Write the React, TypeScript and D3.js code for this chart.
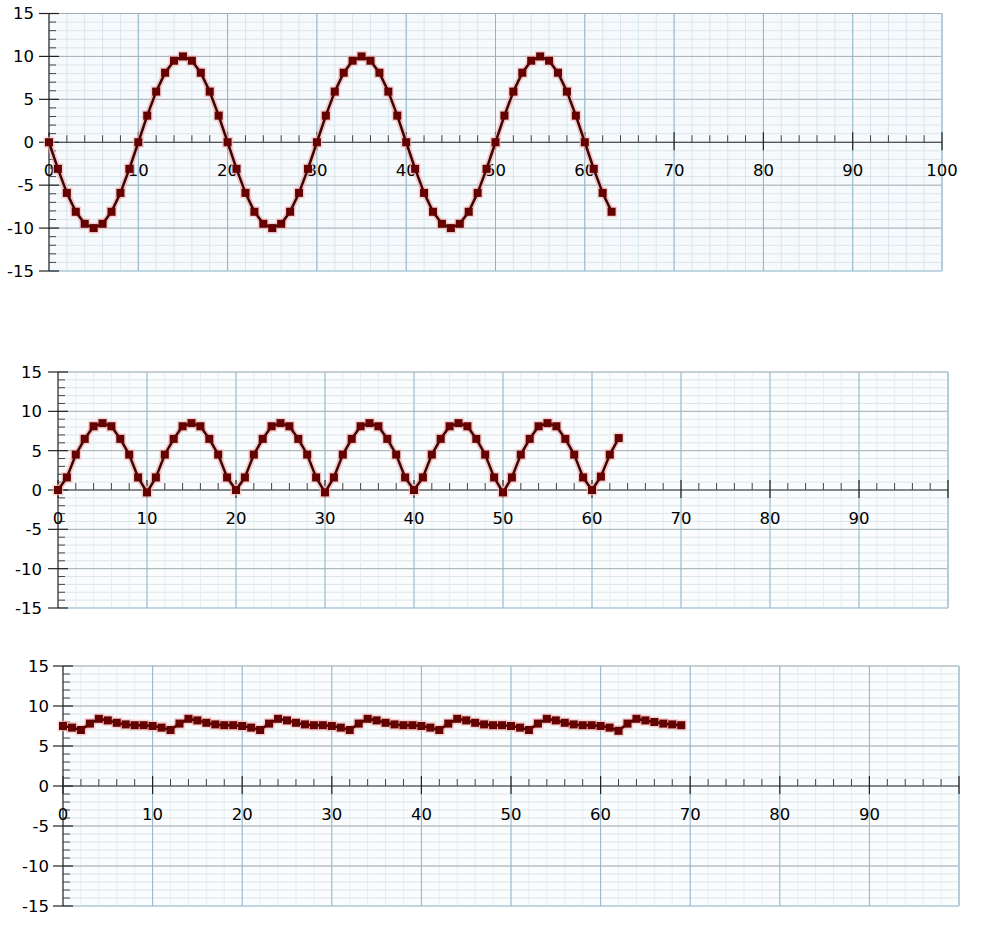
import React from "react";
import * as d3 from "d3";

// Values, one per integer x step starting at x = 0
const topValues = [
  0, -3.1, -5.9, -8.1, -9.5, -10, -9.5, -8.1, -5.9, -3.1,
  0, 3.1, 5.9, 8.1, 9.5, 10, 9.5, 8.1, 5.9, 3.1,
  0, -3.1, -5.9, -8.1, -9.5, -10, -9.5, -8.1, -5.9, -3.1,
  0, 3.1, 5.9, 8.1, 9.5, 10, 9.5, 8.1, 5.9, 3.1,
  0, -3.1, -5.9, -8.1, -9.5, -10, -9.5, -8.1, -5.9, -3.1,
  0, 3.1, 5.9, 8.1, 9.5, 10, 9.5, 8.1, 5.9, 3.1,
  0, -3.1, -5.9, -8.1,
];

const middleValues = [
  0, 1.6, 4.5, 6.5, 8.1, 8.5, 8.1, 6.5, 4.5, 1.6,
  -0.3, 1.6, 4.5, 6.5, 8.1, 8.5, 8.1, 6.5, 4.5, 1.6,
  0, 1.6, 4.5, 6.5, 8.1, 8.5, 8.1, 6.5, 4.5, 1.6,
  -0.3, 1.6, 4.5, 6.5, 8.1, 8.5, 8.1, 6.5, 4.5, 1.6,
  0, 1.6, 4.5, 6.5, 8.1, 8.5, 8.1, 6.5, 4.5, 1.6,
  -0.3, 1.6, 4.5, 6.5, 8.1, 8.5, 8.1, 6.5, 4.5, 1.6,
  0, 1.7, 4.5, 6.6,
];

const bottomValues = [
  7.5, 7.3, 7.0, 7.8, 8.4, 8.2, 7.9, 7.7, 7.6, 7.6,
  7.5, 7.3, 7.0, 7.8, 8.4, 8.2, 7.9, 7.7, 7.6, 7.6,
  7.5, 7.3, 7.0, 7.8, 8.4, 8.2, 7.9, 7.7, 7.6, 7.6,
  7.5, 7.3, 7.0, 7.8, 8.4, 8.2, 7.9, 7.7, 7.6, 7.6,
  7.5, 7.3, 7.0, 7.8, 8.4, 8.2, 7.9, 7.7, 7.6, 7.6,
  7.5, 7.3, 7.0, 7.8, 8.4, 8.2, 7.9, 7.7, 7.6, 7.6,
  7.5, 7.3, 6.9, 7.8, 8.4, 8.2, 8.0, 7.8, 7.7, 7.6,
];

const xLabelsTop = [0, 10, 20, 30, 40, 50, 60, 70, 80, 90, 100];
const xLabelsRest = [0, 10, 20, 30, 40, 50, 60, 70, 80, 90];
const yLabels = [15, 10, 5, 0, -5, -10, -15];

const FONT = "'DejaVu Sans', Verdana, sans-serif";

type PanelProps = {
  values: number[];
  left: number;
  right: number;
  top: number;
  bottom: number;
  xLabels: number[];
  labelGap: number;
  vMinorColor: string;
  bg: string;
};

function Panel({ values, left, right, top, bottom, xLabels, labelGap, vMinorColor, bg }: PanelProps) {
  const x = d3.scaleLinear().domain([0, 100]).range([left, right]);
  const y = d3.scaleLinear().domain([-15, 15]).range([bottom, top]);
  const x0 = x(0);
  const y0 = y(0);

  const vMinor = d3.range(0, 101, 2);
  const vMajor = d3.range(10, 101, 10);
  const hMinor = d3.range(-15, 16, 1);
  const hMajor = [-10, -5, 5, 10];

  const pts = values.map((v, i) => [i, v] as [number, number]);
  const line = d3
    .line<[number, number]>()
    .x((d) => x(d[0]))
    .y((d) => y(d[1]));
  const path = line(pts) || "";

  return (
    <g>
      <rect x={left} y={top} width={right - left} height={bottom - top} fill={bg} />
      {hMinor.map((t) => (
        <line key={"hm" + t} x1={left} x2={right} y1={y(t)} y2={y(t)} stroke="#dce5ea" strokeWidth={1} />
      ))}
      {vMinor.map((t) => (
        <line key={"vm" + t} x1={x(t)} x2={x(t)} y1={top} y2={bottom} stroke={vMinorColor} strokeWidth={1} />
      ))}
      {hMajor.map((t) => (
        <line key={"hM" + t} x1={left} x2={right} y1={y(t)} y2={y(t)} stroke="#a6b0b6" strokeWidth={1} />
      ))}
      {vMajor.map((t) => (
        <line key={"vM" + t} x1={x(t)} x2={x(t)} y1={top} y2={bottom} stroke="#8fb5c8" strokeWidth={1} />
      ))}
      {/* borders */}
      <line x1={left} x2={right} y1={top} y2={top} stroke="#a2adb3" strokeWidth={1} />
      <line x1={left} x2={right} y1={bottom} y2={bottom} stroke="#94bccd" strokeWidth={1.2} />
      <line x1={right} x2={right} y1={top} y2={bottom} stroke="#b3cedb" strokeWidth={2} />

      {/* y axis */}
      <line x1={x0} x2={x0} y1={top} y2={bottom} stroke="#222" strokeWidth={1.2} />
      {hMinor.map((t) =>
        t % 5 === 0 ? (
          <line key={"yt" + t} x1={x0 - 10} x2={x0 + 10} y1={y(t)} y2={y(t)} stroke="#222" strokeWidth={1.2} />
        ) : (
          <line key={"yt" + t} x1={x0} x2={x0 + 7} y1={y(t)} y2={y(t)} stroke="#444" strokeWidth={1} />
        )
      )}
      {yLabels.map((t) => (
        <text
          key={"yl" + t}
          x={x0 - labelGap}
          y={y(t)}
          dy="0.36em"
          textAnchor="end"
          fontFamily={FONT}
          fontSize={16.5}
          fill="#000"
        >
          {t}
        </text>
      ))}

      {/* x axis */}
      <line x1={left} x2={right} y1={y0} y2={y0} stroke="#222" strokeWidth={1.2} />
      {vMinor.map((t) =>
        t % 10 === 0 ? (
          <line key={"xt" + t} x1={x(t)} x2={x(t)} y1={y0 - 10} y2={y0 + 8} stroke="#222" strokeWidth={1.2} />
        ) : (
          <line key={"xt" + t} x1={x(t)} x2={x(t)} y1={y0 - 7} y2={y0} stroke="#444" strokeWidth={1} />
        )
      )}
      {xLabels.map((t) => (
        <text
          key={"xl" + t}
          x={x(t)}
          y={y0 + 28}
          dy="0.36em"
          textAnchor="middle"
          fontFamily={FONT}
          fontSize={16.5}
          fill="#000"
        >
          {t}
        </text>
      ))}

      {/* series */}
      <path d={path} fill="none" stroke="#f5b0b0" strokeOpacity={0.7} strokeWidth={6} strokeLinejoin="round" />
      {pts.map((d, i) => (
        <rect
          key={"h" + i}
          x={x(d[0]) - 5.5}
          y={y(d[1]) - 5.5}
          width={11}
          height={11}
          fill="#f5b8b8"
          fillOpacity={0.6}
        />
      ))}
      <path d={path} fill="none" stroke="#3a0505" strokeWidth={2.5} strokeLinejoin="round" />
      {pts.map((d, i) => (
        <rect
          key={"m" + i}
          x={x(d[0]) - 4}
          y={y(d[1]) - 4}
          width={8}
          height={8}
          fill="#640202"
        />
      ))}
    </g>
  );
}

export default function App() {
  return (
    <svg width={1001} height={946} style={{ position: "absolute", left: 0, top: 0, background: "#fff" }}>
      <rect width={1001} height={946} fill="#fff" />
      <Panel values={topValues} left={49} right={942} top={13.5} bottom={271} xLabels={xLabelsTop} labelGap={15} vMinorColor="#d8e7ee" bg="#f6fafc" />
      <Panel values={middleValues} left={58} right={948} top={372} bottom={608} xLabels={xLabelsRest} labelGap={16} vMinorColor="#e6eef2" bg="#fafcfd" />
      <Panel values={bottomValues} left={63} right={959} top={666} bottom={906} xLabels={xLabelsRest} labelGap={14} vMinorColor="#e6eef2" bg="#fafcfd" />
    </svg>
  );
}
